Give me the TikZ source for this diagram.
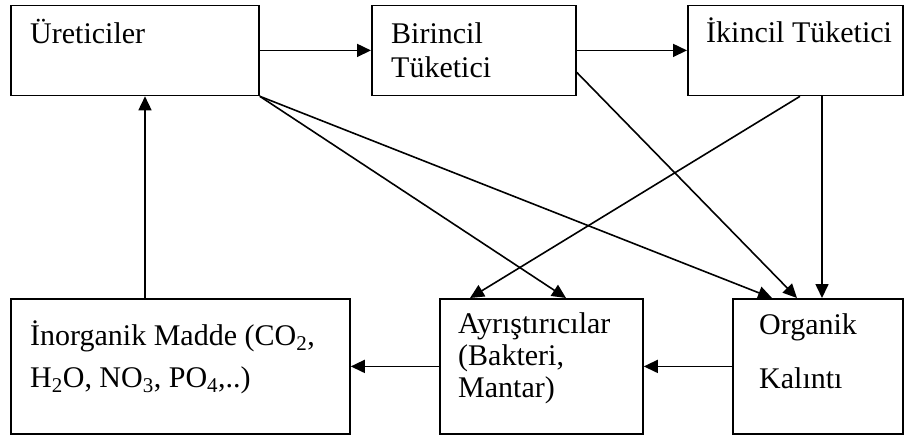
\documentclass[tikz,border=0pt]{standalone}
\usepackage{fontspec}
\setmainfont{Liberation Serif}
\usetikzlibrary{arrows.meta,calc}
\begin{document}
\begin{tikzpicture}[x=1pt,y=-1pt,
  box/.style={draw, line width=1.8pt, rectangle, inner sep=0pt, anchor=north west},
  txt/.style={anchor=base west, inner sep=0pt, font=\fontsize{30}{36}\selectfont},
  arr/.style={line width=1.6pt, -{Triangle[length=14pt,width=13pt]}}]
\useasboundingbox (0,0) rectangle (904,437);
% boxes
\node[box, minimum width=248pt, minimum height=90pt] (ure) at (10,4.5) {};
\node[box, minimum width=204pt, minimum height=90pt] (bir) at (371,4.5) {};
\node[box, minimum width=215pt, minimum height=90pt] (iki) at (687,4.5) {};
\node[box, minimum width=339pt, minimum height=135pt] (inorg) at (10,298) {};
\node[box, minimum width=203pt, minimum height=135pt] (ayr) at (439,298) {};
\node[box, minimum width=170pt, minimum height=135pt] (org) at (732,298) {};
% texts
\node[txt] (t1) at (30,43) {Üreticiler};
\node[txt] (t2a) at (391,43) {Birincil};
\node[txt] (t2b) at (391,77) {Tüketici};
\node[txt] (t3) at (706,42) {İkincil Tüketici};
\node[txt] (t4a) at (30,345) {İnorganik Madde (CO\textsubscript{2},};
\node[txt] (t4b) at (30,387) {H\textsubscript{2}O, NO\textsubscript{3}, PO\textsubscript{4},..)};
\node[txt] (t5a) at (458,333) {Ayrıştırıcılar};
\node[txt] (t5b) at (458,365) {(Bakteri,};
\node[txt] (t5c) at (458,397) {Mantar)};
\node[txt] (t6a) at (759,334) {Organik};
\node[txt] (t6b) at (759,388) {Kalıntı};
% connectors
\draw[arr] (ure.east) -- (bir.west);
\draw[arr] (bir.east) -- (iki.west);
\draw[arr] ($(inorg.north west)+(135,0)$) -- ($(ure.south west)+(135,0)$);
\draw[arr] (ure.south east) -- ($(ayr.north west)+(127,0)$);
\draw[arr] (ure.south east) -- ($(org.north west)+(40,0)$);
\draw[arr] ($(bir.east)+(0,22)$) -- ($(org.north west)+(65,0)$);
\draw[arr] ($(iki.south west)+(113,0)$) -- ($(ayr.north west)+(31,0)$);
\draw[arr] ($(iki.south west)+(135,0)$) -- ($(org.north west)+(90,0)$);
\draw[arr] (org.west) -- (ayr.east);
\draw[arr] (ayr.west) -- (inorg.east);
\end{tikzpicture}
\end{document}
